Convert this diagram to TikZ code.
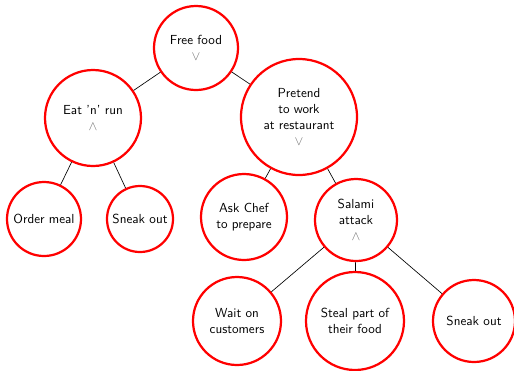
\documentclass[tikz,border=0pt]{standalone}
\newlength\pxu
\setlength\pxu{0.763pt}
\tikzset{
  goal/.style={circle, draw=red, line width=1.7pt, align=center,
    font=\sffamily, inner sep=0pt, minimum size=#1*\pxu},
  link/.style={draw=black, line width=0.5pt}
}
\newcommand\orgate{\textcolor{black!55}{$\vee$}}
\newcommand\andgate{\textcolor{black!55}{$\wedge$}}
\begin{document}
\begin{tikzpicture}[x=\pxu, y=-\pxu]
  \useasboundingbox (0,0) rectangle (514,370);
  % root and first level
  \node[goal=84] (free) at (196,48) {Free food\\\orgate};
  \node[goal=96] (eat) at (93,118) {Eat 'n' run\\\andgate};
  \node[goal=116] (pretend) at (299,117) {Pretend\\to work\\at restaurant\\\orgate};
  % second level
  \node[goal=74] (order) at (44,219) {Order meal};
  \node[goal=66] (sneakA) at (140,219) {Sneak out};
  \node[goal=86] (ask) at (244,217) {Ask Chef\\to prepare};
  \node[goal=82] (salami) at (356,220) {Salami\\attack\\\andgate};
  % third level
  \node[goal=88] (wait) at (237,321) {Wait on\\customers};
  \node[goal=98] (steal) at (355,321) {Steal part of\\their food};
  \node[goal=82] (sneakB) at (474,321) {Sneak out};
  % connectors
  \draw[link] (free) -- (eat);
  \draw[link] (free) -- (pretend);
  \draw[link] (eat) -- (order);
  \draw[link] (eat) -- (sneakA);
  \draw[link] (pretend) -- (ask);
  \draw[link] (pretend) -- (salami);
  \draw[link] (salami) -- (wait);
  \draw[link] (salami) -- (steal);
  \draw[link] (salami) -- (sneakB);
\end{tikzpicture}
\end{document}
